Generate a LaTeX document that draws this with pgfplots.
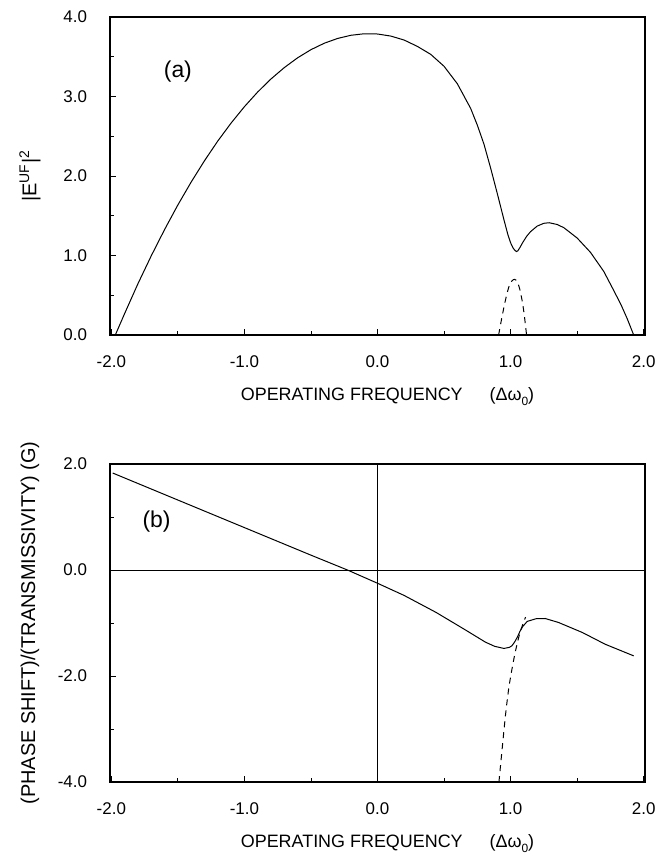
\documentclass[border=0pt]{standalone}
\usepackage{fontspec}
\setmainfont{Liberation Sans}
\usepackage{pgfplots}
\pgfplotsset{compat=1.18}
\pgfplotsset{refstyle/.style={
  scale only axis, width=267.5bp, height=159bp,
  axis line style={line width=1.2bp},
  xmin=-2.01, xmax=2.01,
  xtick={-2,-1,0,1,2},
  minor xtick={-1.5,-0.5,0.5,1.5},
  xticklabels={-2.0,-1.0,0.0,1.0,2.0},
  tick align=inside, xtick pos=bottom, ytick pos=left,
  major tick length=3bp, minor tick length=2bp,
  every tick/.style={black, line width=0.4bp},
  ticklabel style={font=\fontsize{8.5}{10}\selectfont},
  xticklabel style={yshift=-7bp},
  yticklabel style={xshift=-8bp},
  label style={font=\fontsize{9}{11}\selectfont},
  xlabel={OPERATING FREQUENCY\hspace{1.5em}(Δω\raisebox{-0.5ex}{\fontsize{6}{7}\selectfont 0})},
  xlabel style={yshift=-3bp, xshift=5bp},
  every axis y label/.style={at={(axis description cs:-0.1495,0.5)}, anchor=center, rotate=90},
  clip=true,
}}
\begin{document}
\begin{tikzpicture}
\path[use as bounding box] (0,0) rectangle (335bp,429bp);
% top panel
\begin{axis}[refstyle, at={(55bp,261.5bp)}, anchor=south west,
  ymin=0, ymax=4,
  ytick={0,1,2,3,4}, minor ytick={0.5,1.5,2.5,3.5},
  yticklabels={0.0,1.0,2.0,3.0,4.0},
  ylabel={|E\textsuperscript{UF}|\textsuperscript{2}}]
\addplot[black, line width=0.5bp] coordinates {
(-1.97,0) (-1.9,0.27) (-1.8,0.645) (-1.7,0.996) (-1.6,1.326) (-1.5,1.636)
(-1.4,1.924) (-1.3,2.192) (-1.2,2.44) (-1.1,2.666) (-1.0,2.872) (-0.9,3.057)
(-0.8,3.221) (-0.7,3.364) (-0.6,3.487) (-0.5,3.589) (-0.4,3.67) (-0.3,3.73)
(-0.2,3.77) (-0.1,3.789) (0,3.786) (0.1,3.76) (0.2,3.71) (0.3,3.63) (0.4,3.53)
(0.5,3.38) (0.6,3.16) (0.7,2.85) (0.75,2.64) (0.8,2.40) (0.85,2.10) (0.9,1.78)
(0.95,1.45) (0.98,1.26) (1.0,1.16) (1.02,1.09) (1.035,1.06) (1.045,1.05)
(1.055,1.06) (1.07,1.10) (1.09,1.16) (1.12,1.24) (1.15,1.30) (1.2,1.37)
(1.25,1.405) (1.29,1.412) (1.35,1.39) (1.4,1.35) (1.5,1.22) (1.6,1.04)
(1.7,0.80) (1.775,0.56) (1.83,0.38) (1.875,0.21) (1.925,0)};
\addplot[black, line width=0.5bp, dash pattern=on 3bp off 2.5bp, smooth] coordinates {
(0.91,0) (0.93,0.18) (0.95,0.35) (0.97,0.50) (0.99,0.62) (1.01,0.68) (1.03,0.70)
(1.05,0.67) (1.07,0.57) (1.09,0.40) (1.105,0.22) (1.12,0)};
\node[font=\fontsize{11.5}{13}\selectfont] at (axis cs:-1.5,3.31) {(a)};
\end{axis}
% bottom panel
\begin{axis}[refstyle, at={(55bp,38bp)}, anchor=south west,
  ymin=-4, ymax=2,
  ytick={-4,-2,0,2}, minor ytick={-3,-1,1},
  yticklabels={-4.0,-2.0,0.0,2.0},
  ylabel={(PHASE SHIFT)/(TRANSMISSIVITY) (G)}]
\addplot[black, line width=0.4bp] coordinates {(-2.01,0) (2.01,0)};
\addplot[black, line width=0.4bp] coordinates {(0,-4) (0,2)};
\addplot[black, line width=0.5bp] coordinates {
(-1.99,1.83) (-1.5,1.32) (-1.0,0.80) (-0.5,0.28) (-0.226,0) (0,-0.25) (0.2,-0.48)
(0.44,-0.80) (0.66,-1.13) (0.81,-1.36) (0.88,-1.44) (0.95,-1.48) (0.99,-1.46)
(1.01,-1.43) (1.03,-1.36) (1.05,-1.27) (1.07,-1.16) (1.09,-1.07) (1.125,-0.97)
(1.19,-0.92) (1.26,-0.915) (1.36,-0.99) (1.54,-1.18) (1.71,-1.40) (1.925,-1.62)};
\addplot[black, line width=0.5bp, dash pattern=on 3bp off 2.5bp, smooth] coordinates {
(0.9125,-4.0) (0.9375,-3.35) (0.9625,-2.72) (0.9875,-2.21) (1.0125,-1.84)
(1.0375,-1.52) (1.0675,-1.21) (1.0925,-1.02) (1.1125,-0.89)};
\node[font=\fontsize{11.5}{13}\selectfont] at (axis cs:-1.66,0.91) {(b)};
\end{axis}
\end{tikzpicture}
\end{document}
